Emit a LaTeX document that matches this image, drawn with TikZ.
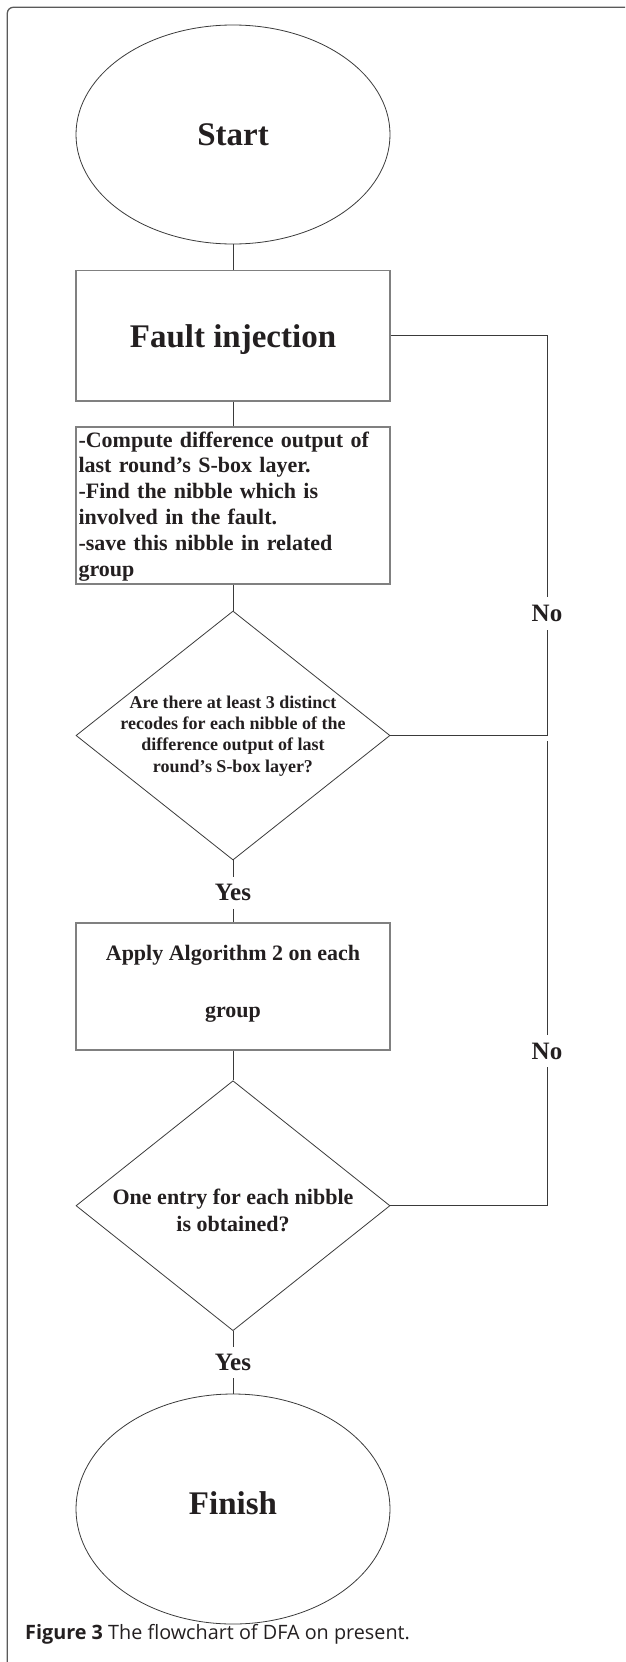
\documentclass[tikz,border=0pt]{standalone}
\usepackage{fontspec}
\setmainfont{Liberation Serif}
\newfontfamily\capfont{Open Sans}
\usetikzlibrary{shapes.geometric}
\definecolor{ink}{HTML}{231F20}
\definecolor{boxgray}{HTML}{808080}
\definecolor{linegray}{HTML}{3A3A3A}
\definecolor{framegray}{HTML}{5A5A5A}
\begin{document}
\begin{tikzpicture}[x=1pt,y=-1pt,
  rectbox/.style={draw=boxgray, line width=1.3pt, minimum width=314pt, minimum height=#1, inner sep=0pt},
  terminal/.style={ellipse, draw=linegray, line width=0.8pt, minimum width=314pt, minimum height=#1, inner sep=0pt},
  decision/.style={diamond, draw=linegray, line width=0.8pt, minimum width=314pt, minimum height=#1, inner sep=0pt},
  conn/.style={draw=linegray, line width=1pt},
  lbl/.style={font=\fontsize{25}{25}\selectfont\bfseries, text=ink, inner sep=0pt, minimum height=#1},
  bigtxt/.style={font=\fontsize{33}{33}\selectfont\bfseries, text=ink, inner sep=0pt},
  bodytxt/.style={font=\fontsize{#1}{#1}\selectfont\bfseries, text=ink, inner sep=0pt}
]
\useasboundingbox (0,0) rectangle (625,1662);
\draw[draw=framegray, line width=1.3pt, rounded corners=6pt] (625,7.3) -- (7.3,7.3) -- (7.3,1662);

\node[terminal=219pt, bigtxt] (start) at (233,134.5) {Start};
\node[rectbox=130.3pt] (fault) at (233,335.85) {};
\node[bigtxt] (faulttxt) at (233,340) {Fault injection};
\node[rectbox=157pt] (compute) at (233,505.5) {};
\node[bodytxt=22, font=\fontsize{22}{25.8}\selectfont\bfseries, anchor=north west, text width=312pt, align=left] (computetxt) at (78.3,431.5)
  {-Compute difference output of\\last round’s S-box layer.\\-Find the nibble which is\\involved in the fault.\\-save this nibble in related\\group};

\node[decision=249pt] (q1) at (233,735.5) {};
\node[bodytxt=18, font=\fontsize{18}{21.3}\selectfont\bfseries, anchor=north, align=center] (q1txt) at (233,695.5)
  {Are there at least 3 distinct\\recodes for each nibble of the\\difference output of last\\round’s S-box layer?};

\node[lbl=32pt] (yes1) at (233,892.7) {Yes};
\node[rectbox=127pt] (apply) at (233,986.5) {};
\node[bodytxt=22, font=\fontsize{22}{57}\selectfont\bfseries, anchor=north, align=center] (applytxt) at (233,945)
  {Apply Algorithm 2 on each\\group};

\node[decision=250pt] (q2) at (233,1205.7) {};
\node[bodytxt=22, font=\fontsize{22}{27}\selectfont\bfseries, anchor=north, align=center] (q2txt) at (233,1189)
  {One entry for each nibble\\is obtained?};

\node[lbl=31pt] (yes2) at (233,1362.7) {Yes};
\node[terminal=230pt] (finish) at (233,1509) {};
\node[bigtxt] (finishtxt) at (233,1503.5) {Finish};

\node[lbl=33pt] (no1) at (547,613.4) {No};
\node[lbl=32pt] (no2) at (547,1051) {No};

\coordinate (r1) at (547,335.85);
\coordinate (r2) at (547,735.5);
\coordinate (r3) at (547,1205.7);
\coordinate (r4) at (547,741);

\draw[conn] (start.south) -- (fault.north);
\draw[conn] (fault.south) -- (compute.north);
\draw[conn] (compute.south) -- (q1.north);
\draw[conn] (q1.south) -- (yes1.north);
\draw[conn] (yes1.south) -- (apply.north);
\draw[conn] (apply.south) -- (q2.north);
\draw[conn] (q2.south) -- (yes2.north);
\draw[conn] (yes2.south) -- (finish.north);

\draw[conn] (fault.east) -- (r1) -- (no1.north);
\draw[conn] (no1.south) -- (r2) -- (q1.east);
\draw[conn] (q2.east) -- (r3) -- (no2.south);
\draw[conn] (no2.north) -- (r4);

\node[anchor=base west, inner sep=0pt, text=ink, font=\capfont\fontsize{19.8}{19.8}\selectfont] (caption) at (25,1639.5)
  {\textbf{Figure 3} The flowchart of DFA on present.};
\end{tikzpicture}
\end{document}
